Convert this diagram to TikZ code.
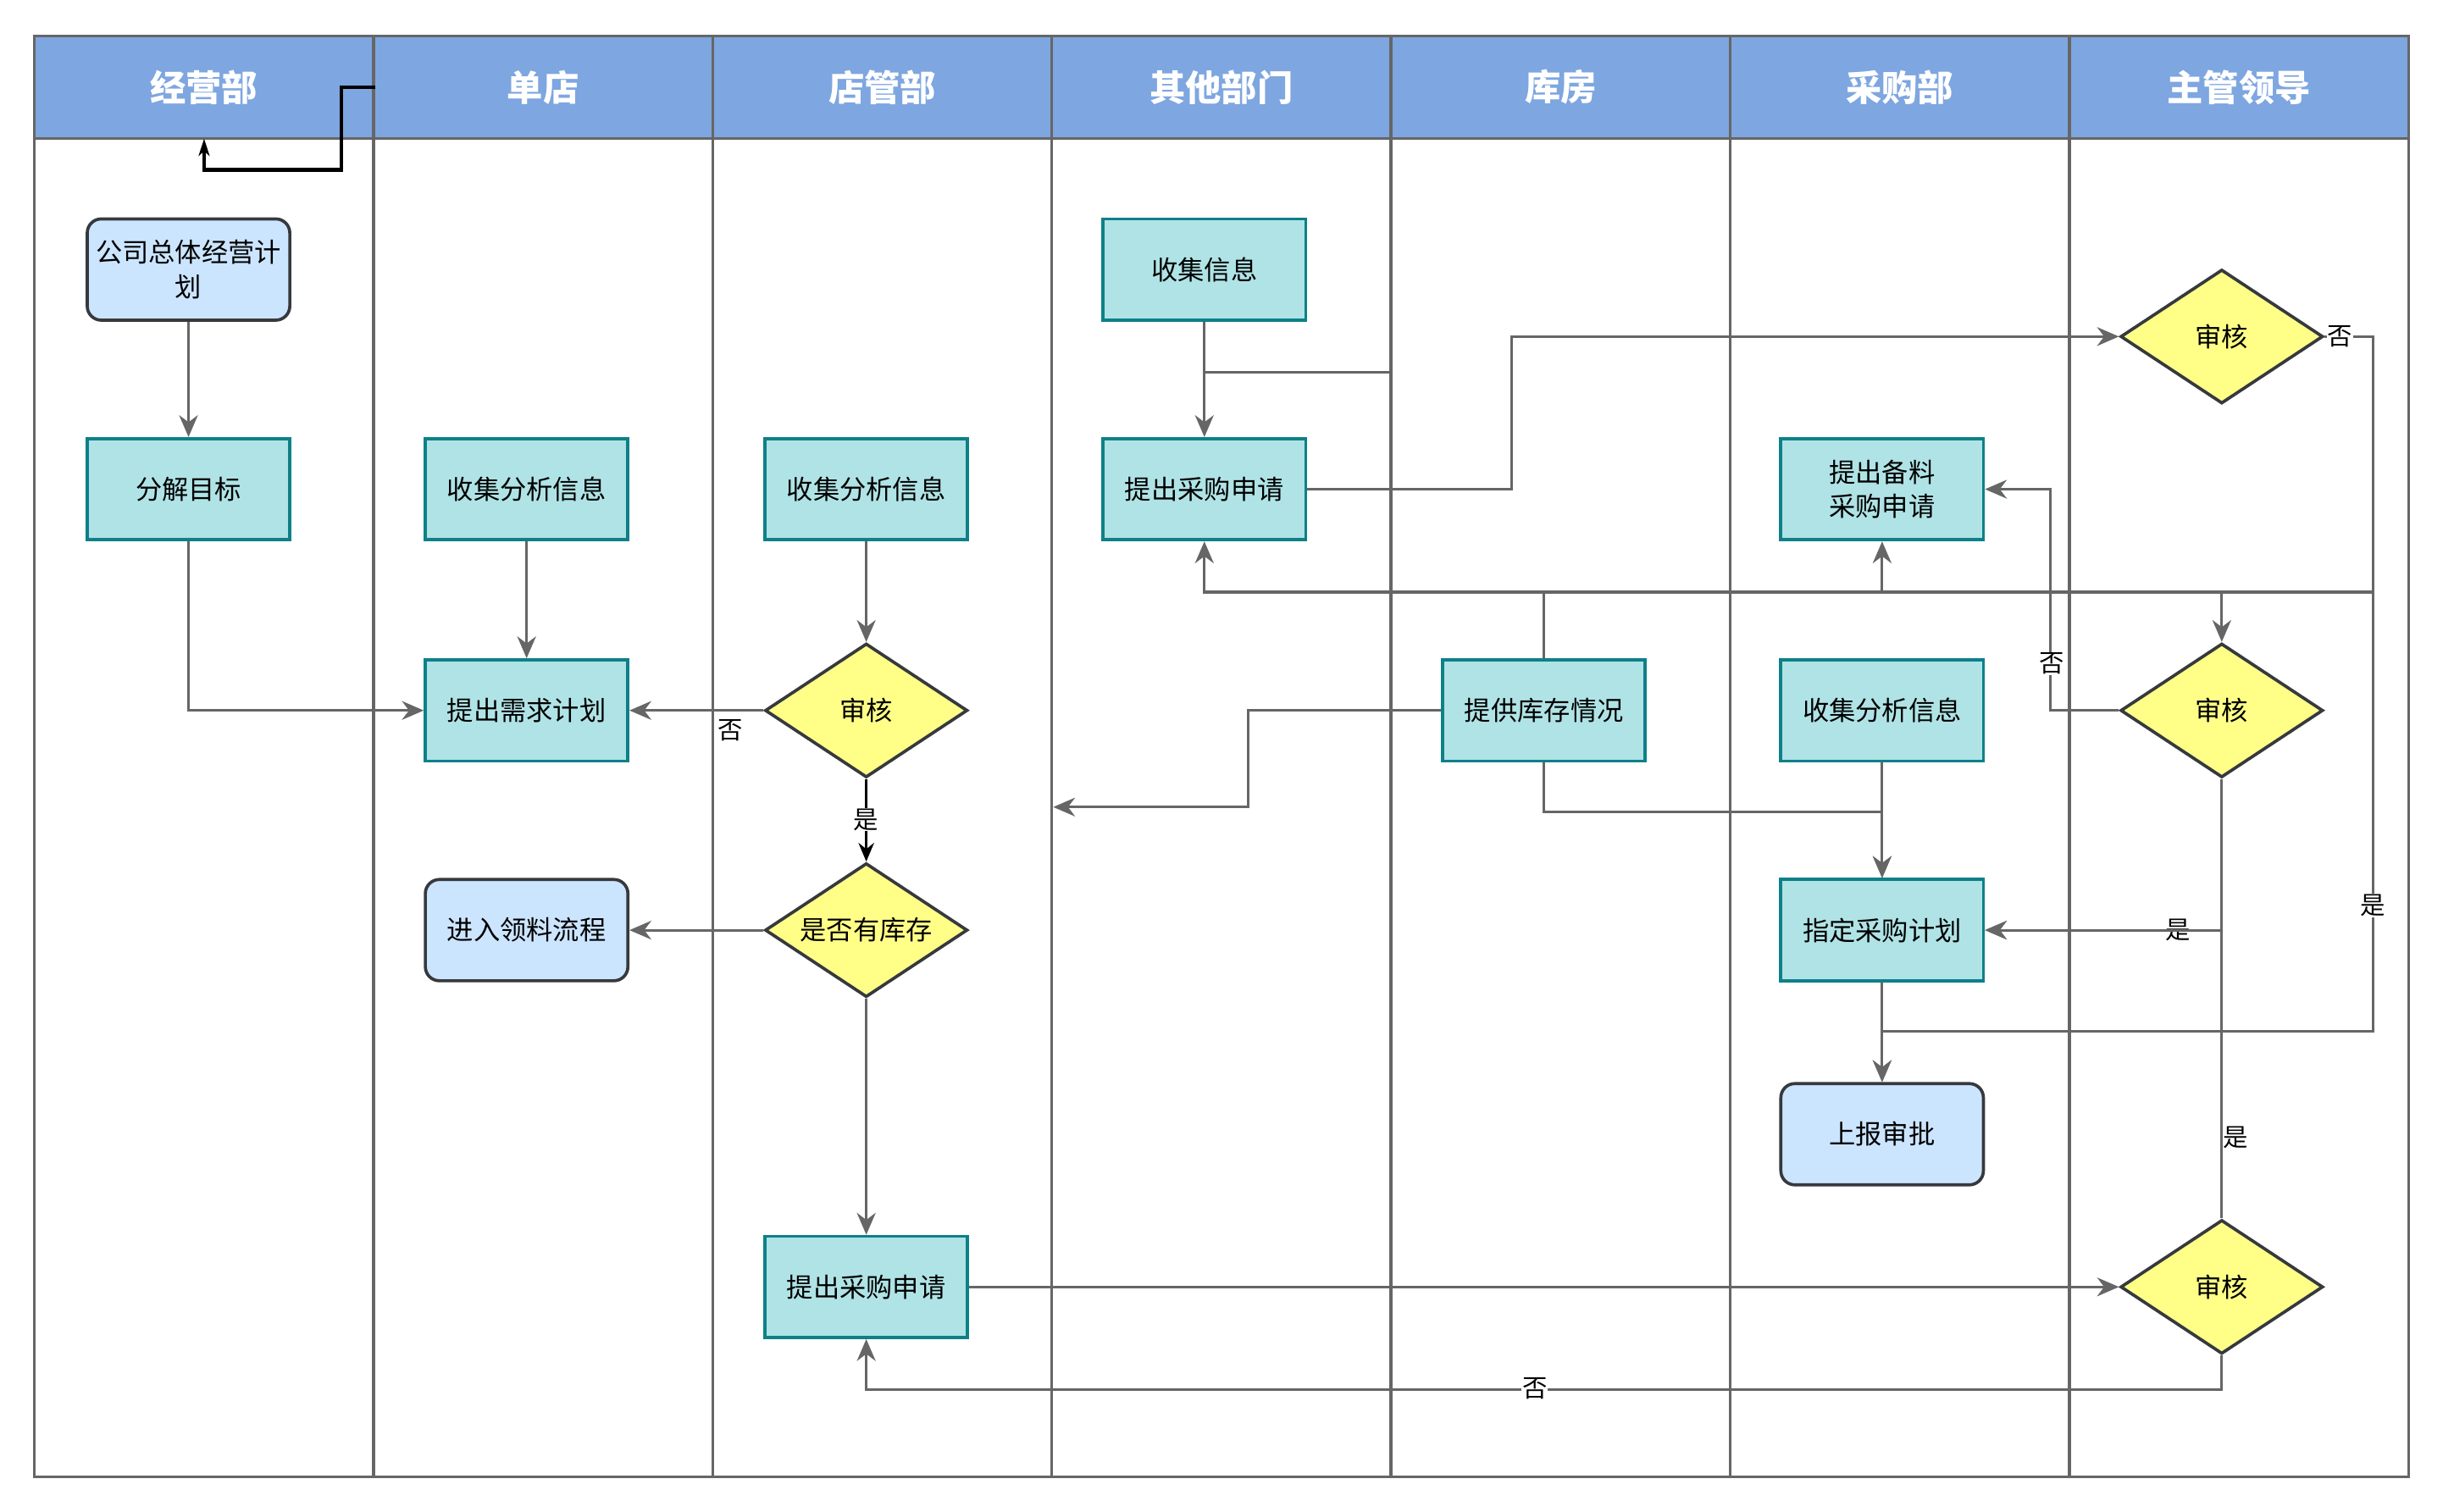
\documentclass[tikz,border=0pt]{standalone}
\usepackage{fontspec}
\setmainfont{Noto Sans CJK SC}
\usetikzlibrary{arrows.meta,shapes.geometric}
\definecolor{headblue}{HTML}{7EA6E0}
\definecolor{lanegray}{HTML}{666666}
\definecolor{boxfill}{HTML}{B0E3E6}
\definecolor{boxline}{HTML}{0E8088}
\definecolor{darkline}{HTML}{36393D}
\definecolor{startfill}{HTML}{CCE5FF}
\definecolor{askfill}{HTML}{FFFF88}
\tikzset{
  lanehead/.style={draw=lanegray,line width=1.8pt,fill=headblue,minimum width=217.7pt,
    minimum height=66pt,inner sep=0pt,text=white,font=\fontsize{23}{26}\selectfont\bfseries},
  lanebox/.style={draw=lanegray,line width=1.8pt},
  task/.style={draw=boxline,line width=2pt,fill=boxfill,minimum width=130pt,minimum height=65pt,
    inner sep=1pt,align=center,font=\fontsize{17}{22}\selectfont},
  endpoint/.style={task,draw=darkline,fill=startfill,rounded corners=9pt},
  ask/.style={diamond,draw=darkline,line width=2pt,fill=askfill,minimum width=130pt,
    minimum height=86pt,aspect=1.5,inner sep=0pt,font=\fontsize{17}{22}\selectfont},
  flow/.style={draw=lanegray,line width=1.7pt,-{Stealth[length=14pt,width=12pt,inset=4.5pt]}},
  plain/.style={draw=lanegray,line width=1.7pt},
  lbl/.style={font=\fontsize{16}{18}\selectfont,inner sep=0.5pt}
}
\begin{document}
\begin{tikzpicture}[x=1pt,y=-1pt]
\useasboundingbox (0,0) rectangle (1568,970);
% swim lanes
\foreach \name [count=\i from 0] in {经营部,单店,店管部,其他部门,库房,采购部,主管领导} {
  \draw[lanebox] ({22+217.7*\i},89) rectangle ++(217.7,859);
  \node[lanehead] (h\i) at ({22+217.7*\i+108.85},56) {\name};
}
% header loop
\coordinate (hs) at (241,56);
\coordinate (he) at (131,89);
\draw[black,line width=2.2pt,-{Stealth[length=11pt,width=7pt,inset=3pt]}] (hs) -- (219,56) |- (131,109) -- (he);

% nodes
\node[endpoint] (gs) at (121,173) {公司总体经营计\\划};
\node[task] (fj) at (121,314) {分解目标};
\node[task] (ss) at (338,314) {收集分析信息};
\node[task] (xq) at (338,456) {提出需求计划};
\node[endpoint] (jr) at (338,597) {进入领料流程};
\node[task] (ds) at (556,314) {收集分析信息};
\node[ask] (dh) at (556,456) {审核};
\node[ask] (yk) at (556,597) {是否有库存};
\node[task] (sp) at (556,826) {提出采购申请};
\node[task] (ci) at (773,173) {收集信息};
\node[task] (pc) at (773,314) {提出采购申请};
\node[task] (kc) at (991,456) {提供库存情况};
\node[task] (bl) at (1208,314) {提出备料\\采购申请};
\node[task] (sc) at (1208,456) {收集分析信息};
\node[task] (zd) at (1208,597) {指定采购计划};
\node[endpoint] (sb) at (1208,728) {上报审批};
\node[ask] (sh1) at (1426,216) {审核};
\node[ask] (sh2) at (1426,456) {审核};
\node[ask] (sh3) at (1426,826) {审核};

% connectors
\draw[flow] (gs) -- (fj);
\draw[flow] (fj.south) |- (xq.west);
\draw[flow] (ss) -- (xq);
\draw[flow] (ds) -- (dh);
\draw[flow] (dh.west) -- (xq.east);
\node[lbl] at (469,469) {否};
\draw[black,line width=1.7pt,-{Stealth[length=12pt,width=10pt,inset=4pt]}] (dh.south) -- (yk.north);
\node[lbl,fill=white] at (556,526) {是};
\draw[flow] (yk.west) -- (jr.east);
\draw[flow] (yk.south) -- (sp.north);
\draw[flow] (sp.east) -- (sh3.west);
\draw[flow] (sh3.south) -- ++(0,22) -| (sp.south);
\node[lbl,fill=white] at (985,891) {否};
\draw[flow] (ci) -- (pc);
\coordinate (oe) at (893,239);
\draw[plain] (ci.south) |- (oe);
\draw[flow] (pc.east) -- ++(131,0) |- (sh1.west);
\draw[flow] (sh1.east) -| (1523,380) -| (pc.south);
\draw[flow] (sh1.east) -| (1523,662) -| (sb.north);
\node[lbl,fill=white] at (1502,216) {否};
\node[lbl,fill=white] at (1523,581) {是};
\draw[flow] (kc.north) |- (1426,380) -- (sh2.north);
\draw[flow] (kc.north) |- (1208,380) -- (bl.south);
\coordinate (tgt) at (676,518);
\draw[flow] (kc.west) -| (801,518) -- (tgt);
\draw[flow] (kc.south) |- (1208,521) -- (zd.north);
\draw[flow] (sc) -- (zd);
\draw[flow] (sh2.west) -- ++(-44,0) |- (bl.east);
\node[lbl,fill=white] at (1317,426) {否};
\draw[flow] (sh2.south) |- (zd.east);
\node[lbl,fill=white] at (1398,597) {是};
\draw[flow] (sh3.north) |- (zd.east);
\node[lbl,anchor=west] at (1426,730) {是};
\draw[flow] (zd) -- (sb);
\end{tikzpicture}
\end{document}
